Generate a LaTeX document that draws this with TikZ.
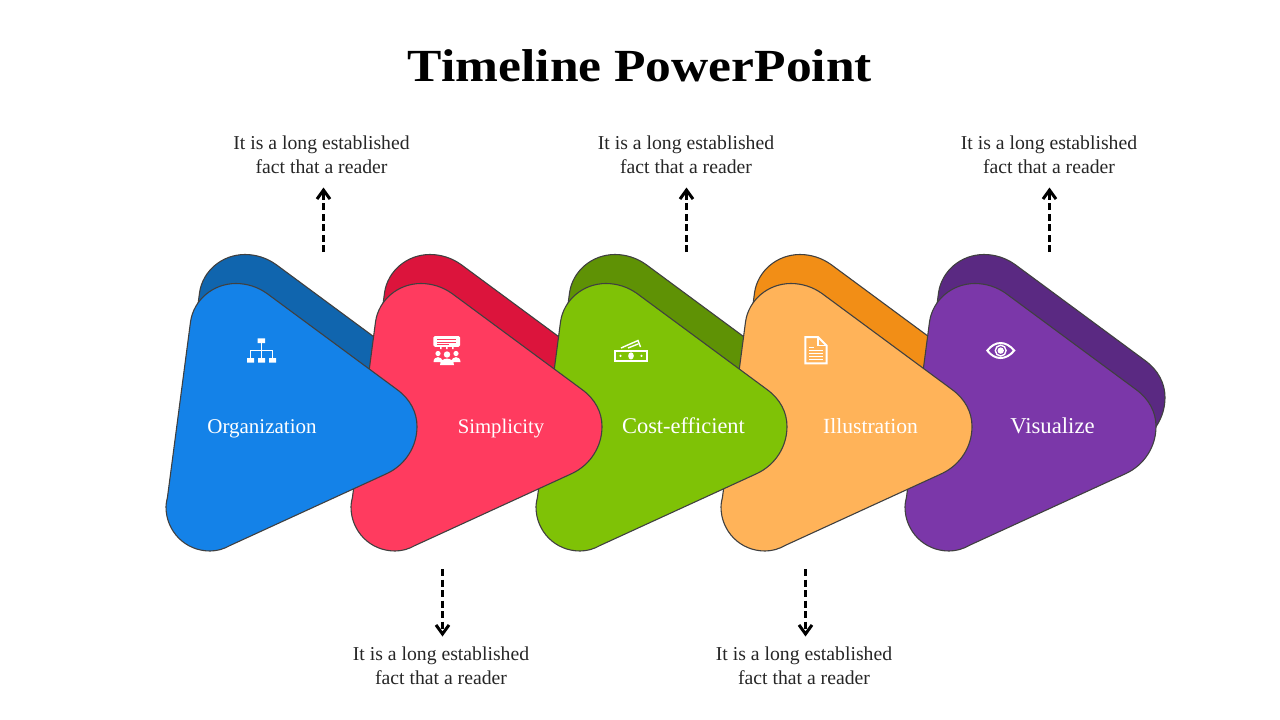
\documentclass[tikz,border=0pt]{standalone}
\usepackage{fontspec}
\setmainfont{Liberation Serif}
\newfontfamily\titlefont[FakeStretch=1.12]{Liberation Serif}
\usetikzlibrary{arrows.meta}

\definecolor{blueF}{HTML}{1482E8}
\definecolor{blueB}{HTML}{1065AE}
\definecolor{redF}{HTML}{FF3B5F}
\definecolor{redB}{HTML}{DC143C}
\definecolor{greenF}{HTML}{7FC206}
\definecolor{greenB}{HTML}{5F9205}
\definecolor{orangeF}{HTML}{FFB359}
\definecolor{orangeB}{HTML}{F28E16}
\definecolor{purpleF}{HTML}{7B37A9}
\definecolor{purpleB}{HTML}{5A2982}

% rounded triangle, at the place of the first one
\newcommand{\blob}[3]{%
  \draw[blobline,fill=#3,shift={(#1,#2)}] (167.5,497) -- (190.5,322)
    .. controls (193.5,300) and (213,283.5) .. (236,283.5)
    .. controls (247,283.5) and (258,287) .. (267,293.5) -- (397,389.5)
    .. controls (410,399) and (417,412) .. (417,426.5)
    .. controls (417,447) and (405,465) .. (387,473.5) -- (230,545.5)
    .. controls (224,549) and (217,551) .. (210,551)
    .. controls (185,551) and (166,531) .. (166,507)
    .. controls (166,503) and (167,500) .. (167.5,497) -- cycle;}

\begin{document}
\begin{tikzpicture}[x=1pt,y=-1pt,semithick]
  \tikzstyle{blobline}=[draw=black!75,line width=1.1pt]
  \tikzstyle{note}=[align=center,text=black!85,inner sep=0pt,outer sep=10pt,
                    minimum height=44pt,font=\fontsize{19.7}{24}\selectfont]
  \tikzstyle{label}=[text=white,inner sep=0pt,anchor=base]
  \tikzstyle{flow}=[-{Straight Barb[length=9pt,width=13pt,line width=3pt]},
                    dash pattern=on 7pt off 3.5pt,line width=3pt,black]
  \tikzstyle{icon}=[draw=white,line width=1.3pt]

  \useasboundingbox (0,0) rectangle (1280,720);

  \node[inner sep=0pt,font=\titlefont\bfseries\fontsize{46}{50}\selectfont] (title) at (640,66) {Timeline PowerPoint};

  \blob{9}{-29}{blueB}
  \blob{194}{-29}{redB}
  \blob{379}{-29}{greenB}
  \blob{564}{-29}{orangeB}
  \blob{748}{-29}{purpleB}
  \blob{739}{0}{purpleF}
  \blob{555}{0}{orangeF}
  \blob{370}{0}{greenF}
  \blob{185}{0}{redF}
  \blob{0}{0}{blueF}

  \node[label,font=\fontsize{21}{24}\selectfont]   (org)  at (262,433)    {Organization};
  \node[label,font=\fontsize{20.7}{24}\selectfont] (simp) at (501,433)    {Simplicity};
  \node[label,font=\fontsize{22.4}{24}\selectfont] (cost) at (683.5,433)  {Cost-efficient};
  \node[label,font=\fontsize{21.6}{24}\selectfont] (illu) at (870.5,433)  {Illustration};
  \node[label,font=\fontsize{22.7}{24}\selectfont] (visu) at (1052.5,433) {Visualize};

  \node[note] (n1) at (321.5,154.5) {It is a long established\\fact that a reader};
  \node[note] (n2) at (441,665.5)   {It is a long established\\fact that a reader};
  \node[note] (n3) at (686,154.5)   {It is a long established\\fact that a reader};
  \node[note] (n4) at (804,665.5)   {It is a long established\\fact that a reader};
  \node[note] (n5) at (1049,154.5)  {It is a long established\\fact that a reader};

  \coordinate (a1) at (323.5,252);
  \coordinate (a2) at (442.5,569);
  \coordinate (a3) at (686.5,252);
  \coordinate (a4) at (805.5,569);
  \coordinate (a5) at (1049.5,252);

  \path[flow] (a1) edge [shorten >=1pt] (a1 |- n1.south)
              (a2) edge [shorten >=-3pt] (a2 |- n2.north)
              (a3) edge [shorten >=1pt] (a3 |- n3.south)
              (a4) edge [shorten >=-3pt] (a4 |- n4.north)
              (a5) edge [shorten >=1pt] (a5 |- n5.south);

  % organization
  \fill[white] (257.7,338.3) rectangle (265,343)
               (247,358) rectangle (254,362.7)
               (258,358) rectangle (265,362.7)
               (269,358) rectangle (276,362.7);
  \draw[icon,line width=1pt] (261.5,343) -- (261.5,358) (250.5,358) -- (250.5,350.5) -- (272.5,350.5) -- (272.5,358);

  % simplicity
  \fill[white,rounded corners=1.5pt] (433.3,336) rectangle (460,346.8);
  \draw[redF,line width=0.9pt] (437,339.5) -- (456,339.5) (437,342) -- (456,342) (437,344.3) -- (449,344.3);
  \fill[white] (440,347) rectangle (441.5,349) (446,347) rectangle (447.5,349) (452,347) rectangle (453.5,349);
  \fill[white] (438,353.5) circle (2.6) (456,353.5) circle (2.6) (447,354.5) circle (3.2);
  \fill[white] (433.5,362) .. controls (433.5,355.5) and (442.5,355.5) .. (442.5,362) -- cycle
               (451.5,362) .. controls (451.5,355.5) and (460.5,355.5) .. (460.5,362) -- cycle
               (440,365) .. controls (440,356.5) and (454,356.5) .. (454,365) -- cycle;

  % cost-efficient
  \draw[icon,line width=2pt] (615.3,351) rectangle (646.7,360.8);
  \fill[white] (631,355.9) ellipse (2.8 and 3.6) (620.5,355.9) circle (1.2) (641.5,355.9) circle (1.2);
  \draw[icon,line width=1.4pt] (621,348) -- (638,340.5) -- (640.5,347) (628,348) -- (638,344);

  % illustration
  \draw[icon,line width=2pt,line join=miter] (805.3,337) -- (818,337) -- (826.7,345.7) -- (826.7,363.3) -- (805.3,363.3) -- cycle;
  \draw[icon,line width=1.2pt] (818,337) -- (818,345.7) -- (826.7,345.7);
  \draw[icon,line width=1.2pt] (809,347.5) -- (814,347.5) (809,350.5) -- (823,350.5) (809,353.5) -- (823,353.5) (809,356.5) -- (823,356.5) (809,359.5) -- (823,359.5);

  % visualize
  \draw[icon,line width=2pt] (987.3,350.6) .. controls (995,340.5) and (1006,340.5) .. (1014.2,350.6)
                             .. controls (1006,360.5) and (995,360.5) .. (987.3,350.6) -- cycle;
  \draw[icon,line width=1.4pt] (1000.7,350.6) circle (5.4);
  \fill[white] (1000.7,350.6) circle (3.2);
\end{tikzpicture}
\end{document}
